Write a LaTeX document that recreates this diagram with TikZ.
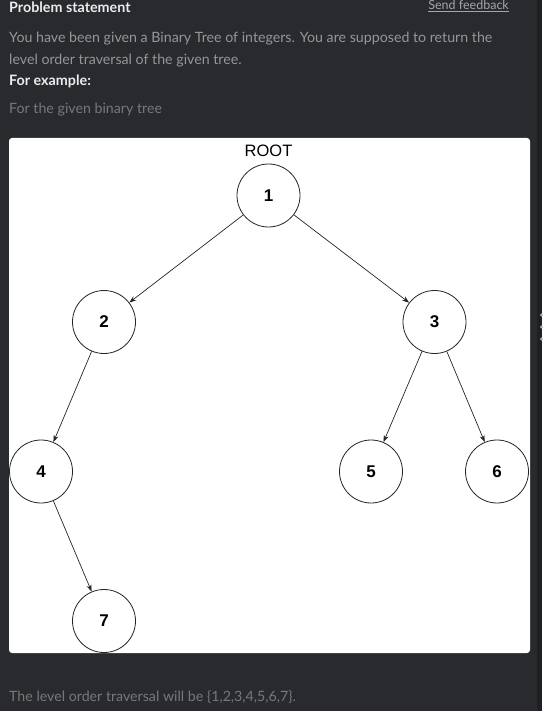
\documentclass[tikz,border=0pt]{standalone}
\usepackage{fontspec}
\setmainfont{Lato}
\newfontfamily\arialf{Liberation Sans}
\usetikzlibrary{arrows.meta}
\definecolor{bgdark}{RGB}{40,42,46}
\definecolor{bgstrip}{RGB}{30,32,35}
\definecolor{txtgray}{RGB}{150,150,152}
\definecolor{txtdim}{RGB}{120,120,123}
\definecolor{txtwhite}{RGB}{236,236,238}
\definecolor{linkgray}{RGB}{165,165,168}
\tikzset{
  treenode/.style={circle, draw=black!85, line width=0.8pt, fill=white, minimum size=63pt, inner sep=0pt, font=\arialf\bfseries\fontsize{17}{17}\selectfont},
  edge/.style={draw=black!85, line width=0.7pt, -{Stealth[length=7pt,width=5pt]}},
  headtxt/.style={anchor=base west, inner sep=0pt, text=txtwhite, font=\bfseries\fontsize{14.3}{14.3}\selectfont},
  bodytxt/.style={anchor=base west, inner sep=0pt, text=txtgray, font=\fontsize{14.2}{14.2}\selectfont},
}
\begin{document}
\begin{tikzpicture}[x=1pt,y=-1pt]
\useasboundingbox (0,0) rectangle (542,711);
\fill[bgdark] (0,0) rectangle (542,711);
\fill[bgstrip] (537,0) rectangle (542,711);
\foreach \yy in {315,327,339} \fill[gray!60] (541.5,\yy) circle (1.6pt);
\fill[white, rounded corners=3pt] (9,138) rectangle (530,653);
\node[headtxt] (title) at (9,12.7) {Problem statement};
\node[anchor=base east, inner sep=0pt, text=linkgray, font=\fontsize{12.5}{12.5}\selectfont] (fb) at (509,10) {\underline{Send feedback}};
\node[bodytxt] (l1) at (9,42.5) {You have been given a Binary Tree of integers. You are supposed to return the};
\node[bodytxt] (l2) at (9,64.5) {level order traversal of the given tree.};
\node[headtxt] (ex) at (9,86) {For example:};
\node[bodytxt, text=txtdim] (l3) at (9,114) {For the given binary tree};
\node[bodytxt, text=txtdim] (l4) at (9,701.5) {The level order traversal will be \{1,2,3,4,5,6,7\}.};
\node[anchor=base, inner sep=0pt, font=\arialf\fontsize{16.5}{16.5}\selectfont] (root) at (268.5,157) {ROOT};
\node[treenode] (n1) at (268.5,195.5) {1};
\node[treenode] (n2) at (104,322) {2};
\node[treenode] (n3) at (434.5,322) {3};
\node[treenode] (n4) at (41,471.5) {4};
\node[treenode] (n5) at (371,471.5) {5};
\node[treenode] (n6) at (497,471.5) {6};
\node[treenode] (n7) at (104,621) {7};
\draw[edge] (n1) -- (n2);
\draw[edge] (n1) -- (n3);
\draw[edge] (n2) -- (n4);
\draw[edge] (n3) -- (n5);
\draw[edge] (n3) -- (n6);
\draw[edge] (n4) -- (n7);
\end{tikzpicture}
\end{document}
